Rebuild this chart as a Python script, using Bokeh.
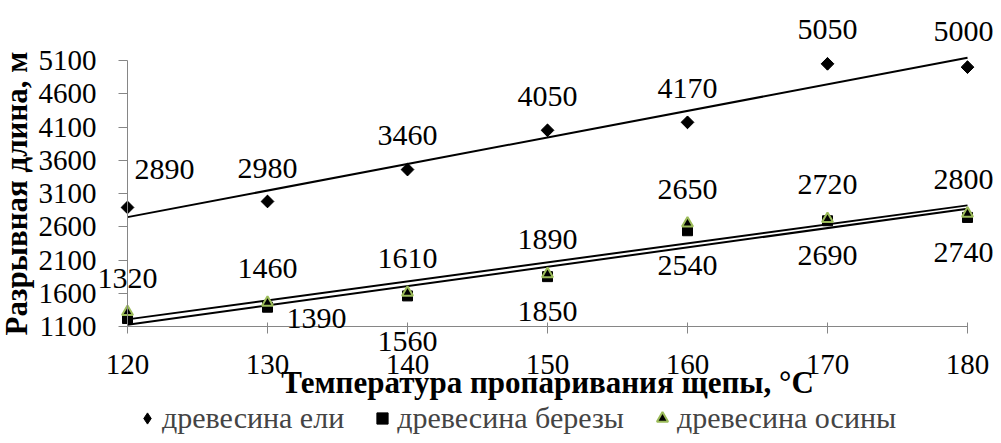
import numpy as np
from bokeh.plotting import figure
from bokeh.models import (ColumnDataSource, LabelSet, Legend, LegendItem,
                          FixedTicker, Range1d, AllLabels)
from bokeh.core.properties import value
from bokeh.embed import file_html
from bokeh.resources import INLINE

# ---- data ----
temps = [120, 130, 140, 150, 160, 170, 180]
spruce = [2890, 2980, 3460, 4050, 4170, 5050, 5000]
birch = [1220, 1390, 1560, 1850, 2540, 2690, 2740]
aspen = [1320, 1460, 1610, 1890, 2650, 2720, 2800]
birch_shown = [False, True, True, True, True, True, True]
y_ticks = [1100, 1600, 2100, 2600, 3100, 3600, 4100, 4600, 5100]
x_ticks = [120, 130, 140, 150, 160, 170, 180]
names = ["древесина ели", "древесина березы", "древесина осины"]
x_title = "Температура пропаривания щепы, °С"
y_title = "Разрывная длина, м"

# ---- layout (pixels) ----
W, H = 993, 435
X0_PX, X1_PX = 127, 967      # where x=120 and x=180 sit
Y0_PX, Y1_PX = 326, 60       # where y=1100 and y=5100 sit (from top)
XMIN, XMAX, YMIN, YMAX = 120, 180, 1100, 5100
sx = (X1_PX - X0_PX) / (XMAX - XMIN)
sy = (Y0_PX - Y1_PX) / (YMAX - YMIN)
x_range = Range1d(XMIN - X0_PX / sx, XMAX + (W - X1_PX) / sx)
y_range = Range1d(YMIN - (H - Y0_PX) / sy, YMAX + Y1_PX / sy)

# ---- label placement (screen px) ----
spruce_xo = [37, 0, 0, 0, 0, 0, -4]
spruce_yo = [38, 33, 34, 34, 34, 34, 36]
aspen_xo = [0, 0, 0, 0, 0, 0, -4]
aspen_yo = [33, 34, 34, 34, 34, 34, 34]
birch_xo = [0, 49, 0, 0, 0, 0, -4]
birch_yo = [0, -11, -46, -35, -35, -35, -35]

FONT = "Times New Roman"
FONT_BOLD = "Liberation Serif"
GRAY = "#868686"
GREEN = "#9BBB59"

p = figure(width=W, height=H, output_backend="svg", toolbar_location=None,
           x_range=x_range, y_range=y_range, min_border=0)
p.background_fill_color = "white"
p.border_fill_color = "white"
p.outline_line_color = None
p.grid.visible = False

for ax in (p.xaxis, p.yaxis):
    ax.axis_line_color = GRAY
    ax.major_tick_line_color = GRAY
    ax.minor_tick_line_color = None
    ax.major_label_text_font = FONT
    ax.major_label_text_font_size = "29px"
    ax.major_label_text_color = "black"
    ax.major_label_policy = AllLabels()
    ax.major_tick_in = 0
    ax.axis_label_text_font = FONT_BOLD
    ax.axis_label_text_font_size = "31px"
    ax.axis_label_text_font_style = "bold"
    ax.axis_label_text_color = "black"
p.xaxis.ticker = FixedTicker(ticks=x_ticks)
p.yaxis.ticker = FixedTicker(ticks=y_ticks)
p.xaxis.fixed_location = YMIN
p.yaxis.fixed_location = XMIN
p.xaxis.bounds = (XMIN, XMAX)
p.yaxis.bounds = (YMIN, YMAX)
p.yaxis.major_tick_out = 9
p.yaxis.major_label_standoff = 22
p.xaxis.major_tick_out = 7
p.xaxis.major_tick_in = 4
p.xaxis.major_label_standoff = 21
p.xaxis.axis_label = x_title
p.xaxis.axis_label_standoff = -12
p.yaxis.axis_label = y_title
p.yaxis.axis_label_standoff = 2

# ---- trend lines (least squares fit) ----
xs = np.array(temps, dtype=float)
xline = [temps[0], temps[-1]]
for ys in (spruce, birch, aspen):
    k, b = np.polyfit(xs, np.array(ys, dtype=float), 1)
    p.line(xline, [k * xline[0] + b, k * xline[1] + b], line_color="black", line_width=2)

# ---- markers ----
# diamond shape used by the legend (covered by the rotated squares in the plot)
r1 = p.scatter(temps, spruce, marker="diamond", size=12, fill_color="black", line_color="black")
p.scatter(temps, spruce, marker="square", angle=np.pi / 4, size=9,
          fill_color="black", line_color="black")
r2 = p.scatter(temps, birch, marker="square", size=10, fill_color="black", line_color="black")
r3 = p.scatter(temps, aspen, marker="triangle", size=11, fill_color="black",
               line_color=GREEN, line_width=2)

# ---- data labels ----
def add_labels(ys, xo, yo, show=None):
    txt = [str(v) if (show is None or show[i]) else "" for i, v in enumerate(ys)]
    src = ColumnDataSource(dict(x=temps, y=ys, t=txt, xo=xo, yo=yo))
    p.add_layout(LabelSet(x="x", y="y", text="t", source=src, x_offset="xo", y_offset="yo",
                          text_font=value(FONT), text_font_size=value("30px"),
                          text_color="black", text_align="center", text_baseline="middle"))

add_labels(spruce, spruce_xo, spruce_yo)
add_labels(aspen, aspen_xo, aspen_yo)
add_labels(birch, birch_xo, birch_yo, birch_shown)

# ---- legend ----
legend = Legend(items=[LegendItem(label=names[0], renderers=[r1]),
                       LegendItem(label=names[1], renderers=[r2]),
                       LegendItem(label=names[2], renderers=[r3])],
                orientation="horizontal", location=(133, 0),
                label_text_font=FONT, label_text_font_size="30px",
                glyph_width=28, glyph_height=28, label_height=28, label_standoff=1,
                spacing=24, padding=0, margin=0, border_line_color=None,
                background_fill_alpha=0)
p.add_layout(legend)

open("out.html", "w").write(file_html(p, INLINE))
